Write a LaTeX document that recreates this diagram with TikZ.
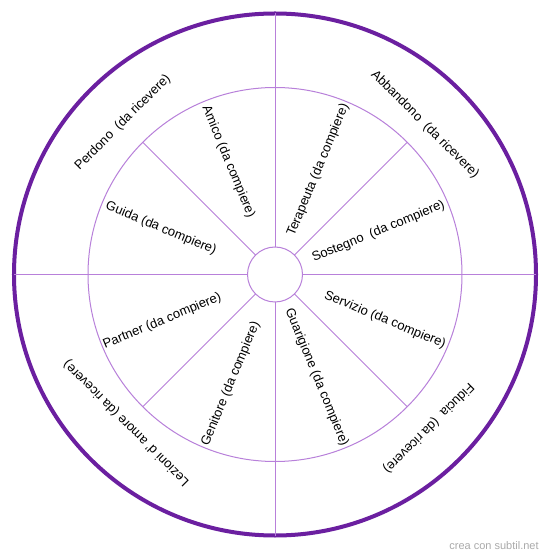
\documentclass[tikz,border=0pt]{standalone}
\usepackage{fontspec}
\setmainfont{Liberation Sans}
\definecolor{rimcol}{RGB}{107,31,160}
\definecolor{linecol}{RGB}{184,128,218}
\definecolor{markcol}{RGB}{170,170,170}
\tikzset{
  ringline/.style={draw=linecol, line width=1pt},
  rimline/.style={draw=rimcol, line width=4pt},
  lbl/.style={font=\fontsize{13}{15}\selectfont, inner sep=0pt, text=black},
  wmark/.style={font=\fontsize{11}{13}\selectfont, text=markcol, inner sep=0pt}
}
\begin{document}
\begin{tikzpicture}[x=1pt,y=1pt]
\useasboundingbox[fill=white] (-275,-284.5) rectangle (275,274.5);
% circles
\node[circle, rimline, minimum size=522pt, inner sep=0pt, outer sep=0pt] (rim) at (0,0) {};
\node[circle, ringline, minimum size=374pt, inner sep=0pt, outer sep=0pt] (ring) at (0,0) {};
\node[circle, ringline, minimum size=55pt, inner sep=0pt, outer sep=0pt] (hub) at (0,0) {};
% main cross
\draw[linecol, line width=1pt] (hub.0) -- (rim.0);
\draw[linecol, line width=1pt] (hub.90) -- (rim.90);
\draw[linecol, line width=1pt] (hub.180) -- (rim.180);
\draw[linecol, line width=1pt] (hub.270) -- (rim.270);
% diagonals
\draw[linecol, line width=1pt] (hub.45) -- (ring.45);
\draw[linecol, line width=1pt] (hub.135) -- (ring.135);
\draw[linecol, line width=1pt] (hub.225) -- (ring.225);
\draw[linecol, line width=1pt] (hub.315) -- (ring.315);
% inner labels
\node[lbl, rotate=22.5] (sostegno) at (22.5:112) {Sostegno~ (da compiere)};
\node[lbl, rotate=67.5] (terapeuta) at (67.5:113) {Terapeuta (da compiere)};
\node[lbl, rotate=-67.5] (amico) at (112.5:122) {Amico (da compiere)};
\node[lbl, rotate=-22.5] (guida) at (158:123) {Guida (da compiere)};
\node[lbl, rotate=22.5] (partner) at (202.5:122) {Partner (da compiere)};
\node[lbl, rotate=67.5] (genitore) at (248:118) {Genitore (da compiere)};
\node[lbl, rotate=-67.5] (guarigione) at (-68:111) {Guarigione (da compiere)};
\node[lbl, rotate=-22.5] (servizio) at (-22.5:119) {Servizio (da compiere)};
% outer labels
\node[lbl, rotate=45] (perdono) at (135:215) {Perdono~ (da ricevere)};
\node[lbl, rotate=-45] (abbandono) at (45:212) {Abbandono~ (da ricevere)};
\node[lbl, rotate=-135] (fiducia) at (-45:217) {Fiducia~ (da ricevere)};
\node[lbl, rotate=135] (lezioni) at (225:210) {Lezioni d{\char"0027} amore (da ricevere)};
% watermark
\node[wmark] (mark) at (219,-271.5) {crea con subtil.net};
\end{tikzpicture}
\end{document}
